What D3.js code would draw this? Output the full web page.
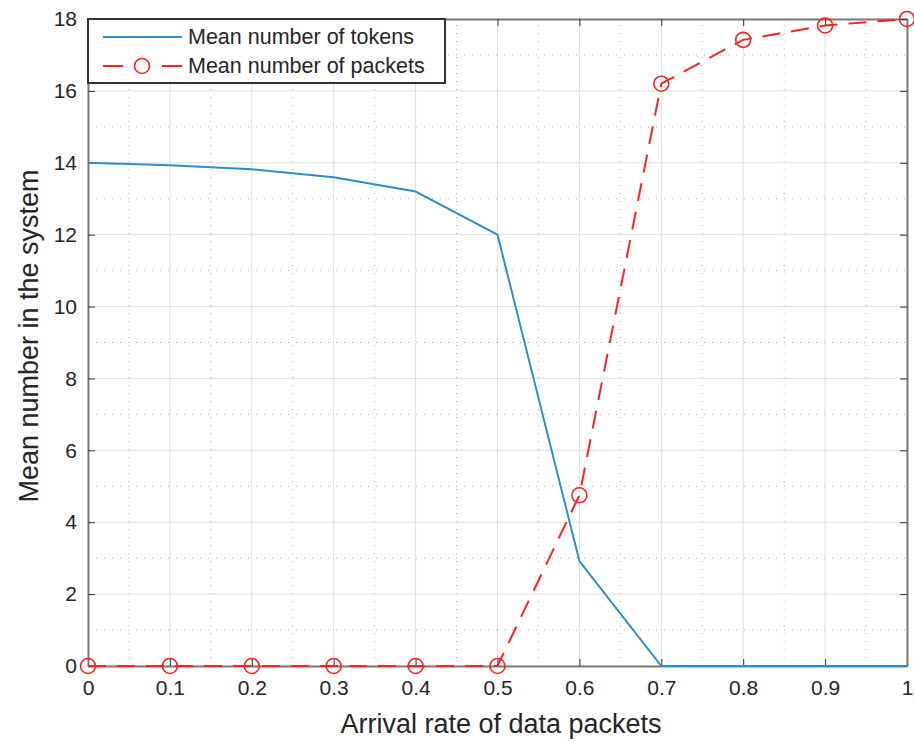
<!DOCTYPE html>
<html>
<head>
<script src="https://d3js.org/d3.v7.min.js"></script>
<style>
  body { margin: 0; background: #fff; }
  text { font-family: "Liberation Sans", Arial, sans-serif; fill: #262626; }
</style>
</head>
<body>
<script>
  const w = 914, h = 742
  const margin = { left: 88, right: 7, top: 19, bottom: 76 }

  // data
  const rates = [0, 0.1, 0.2, 0.3, 0.4, 0.5, 0.6, 0.7, 0.8, 0.9, 1]
  const tokens = [14, 13.93, 13.82, 13.6, 13.2, 12, 2.92, 0, 0, 0, 0]
  const packets = [0, 0, 0, 0, 0, 0, 4.75, 16.2, 17.42, 17.82, 18]
  const xTicks = [0, 0.1, 0.2, 0.3, 0.4, 0.5, 0.6, 0.7, 0.8, 0.9, 1]
  const xTickLabels = ["0", "0.1", "0.2", "0.3", "0.4", "0.5", "0.6", "0.7", "0.8", "0.9", "1"]
  const yTicks = [0, 2, 4, 6, 8, 10, 12, 14, 16, 18]
  const xMinor = d3.range(0.05, 1, 0.1)
  const yMinor = d3.range(1, 18, 2)
  const seriesNames = ["Mean number of tokens", "Mean number of packets"]

  const svg = d3.select("body").append("svg").attr("width", w).attr("height", h)

  const x = d3.scaleLinear().domain([0, 1]).range([margin.left, w - margin.right])
  const y = d3.scaleLinear().domain([0, 18]).range([h - margin.bottom, margin.top])
  const x0 = x.range()[0], x1 = x.range()[1], y0 = y.range()[0], y1 = y.range()[1]

  const blue = "#2f8ccd", red = "#ff2020"

  // minor grid (dotted)
  const grid = svg.append("g")
  grid.selectAll(".mx").data(xMinor).join("line")
    .attr("x1", d => x(d)).attr("x2", d => x(d)).attr("y1", y0).attr("y2", y1)
    .attr("stroke", "#aaa").attr("stroke-width", 1).attr("stroke-dasharray", "1,7")
  grid.selectAll(".my").data(yMinor).join("line")
    .attr("y1", d => y(d)).attr("y2", d => y(d)).attr("x1", x0).attr("x2", x1)
    .attr("stroke", "#aaa").attr("stroke-width", 1).attr("stroke-dasharray", "1,7")
  // major grid
  grid.selectAll(".gx").data(xTicks).join("line")
    .attr("x1", d => x(d)).attr("x2", d => x(d)).attr("y1", y0).attr("y2", y1)
    .attr("stroke", "#e0e0e0").attr("stroke-width", 1)
  grid.selectAll(".gy").data(yTicks).join("line")
    .attr("y1", d => y(d)).attr("y2", d => y(d)).attr("x1", x0).attr("x2", x1)
    .attr("stroke", "#e0e0e0").attr("stroke-width", 1)

  // axes with inward ticks on all sides
  const axCol = "#7a7a7a"
  const axBottom = svg.append("g").attr("transform", `translate(0,${y0})`)
    .call(d3.axisBottom(x).tickValues(xTicks).tickFormat((d, i) => xTickLabels[i]).tickSizeInner(-7).tickSizeOuter(0).tickPadding(14))
  const axTop = svg.append("g").attr("transform", `translate(0,${y1})`)
    .call(d3.axisTop(x).tickValues(xTicks).tickFormat("").tickSizeInner(-7).tickSizeOuter(0))
  const axLeft = svg.append("g").attr("transform", `translate(${x0},0)`)
    .call(d3.axisLeft(y).tickValues(yTicks).tickSizeInner(-7).tickSizeOuter(0).tickPadding(11))
  const axRight = svg.append("g").attr("transform", `translate(${x1},0)`)
    .call(d3.axisRight(y).tickValues(yTicks).tickFormat("").tickSizeInner(-7).tickSizeOuter(0))
  ;[axBottom, axTop, axLeft, axRight].forEach(g => {
    g.select(".domain").attr("stroke", axCol).attr("stroke-width", 2)
    g.selectAll(".tick line").attr("stroke", "#333").attr("stroke-width", 1)
    g.selectAll("text").style("font-family", "Liberation Sans, Arial, sans-serif")
      .attr("font-size", 21).attr("fill", "#333")
  })

  // series
  const line = d3.line().x((d, i) => x(rates[i])).y(d => y(d))
  svg.append("path").datum(tokens).attr("d", line)
    .attr("fill", "none").attr("stroke", blue).attr("stroke-width", 2)
  svg.append("path").datum(packets).attr("d", line)
    .attr("fill", "none").attr("stroke", red).attr("stroke-width", 2)
    .attr("stroke-dasharray", "18,11")
  svg.selectAll(".pm").data(packets).join("circle")
    .attr("cx", (d, i) => x(rates[i])).attr("cy", d => y(d)).attr("r", 7.5)
    .attr("fill", "none").attr("stroke", red).attr("stroke-width", 1.6)

  // axis labels
  svg.append("text").attr("x", 501).attr("y", 733).attr("text-anchor", "middle")
    .attr("font-size", 27).attr("fill", "#333").text("Arrival rate of data packets")
  svg.append("text").attr("transform", `translate(38,336) rotate(-90)`)
    .attr("text-anchor", "middle").attr("font-size", 27).attr("fill", "#333").text("Mean number in the system")

  // legend
  const lg = svg.append("g").attr("transform", `translate(${x0},${y1})`)
  lg.append("rect").attr("width", 357).attr("height", 64)
    .attr("fill", "#fff").attr("stroke", "#333").attr("stroke-width", 2)
  lg.append("line").attr("x1", 15).attr("x2", 94).attr("y1", 18).attr("y2", 18)
    .attr("stroke", blue).attr("stroke-width", 2)
  lg.selectAll(".ld").data([[15, 35], [74, 94]]).join("line")
    .attr("x1", d => d[0]).attr("x2", d => d[1]).attr("y1", 47).attr("y2", 47)
    .attr("stroke", red).attr("stroke-width", 2)
  lg.append("circle").attr("cx", 54).attr("cy", 47).attr("r", 7.5)
    .attr("fill", "none").attr("stroke", red).attr("stroke-width", 1.6)
  lg.selectAll(".lt").data(seriesNames).join("text")
    .attr("x", 100).attr("y", (d, i) => 25 + i * 29).attr("font-size", 21.5).attr("fill", "#111")
    .text(d => d)
</script>
</body>
</html>
